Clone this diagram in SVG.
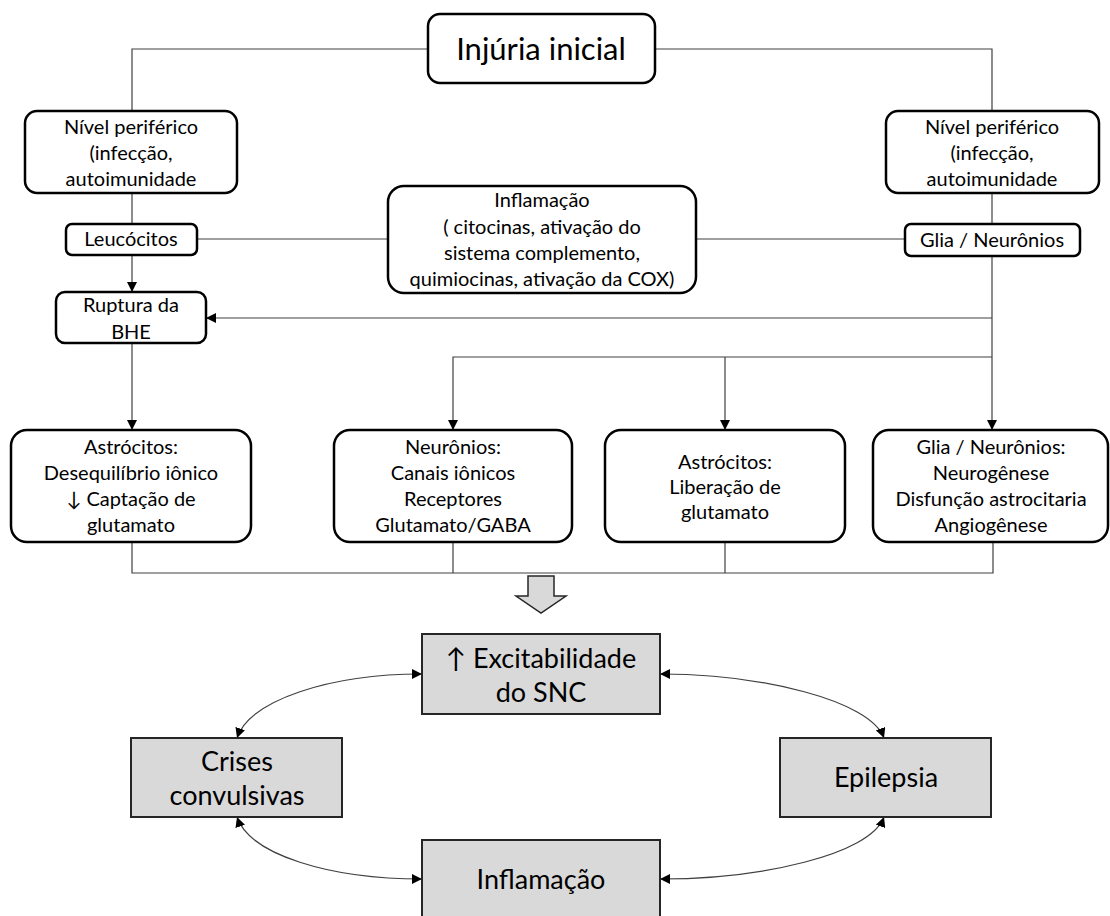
<svg xmlns="http://www.w3.org/2000/svg" width="1110" height="916" viewBox="0 0 1110 916">
<defs>
<style>
.box{fill:#fff;stroke:#000;stroke-width:2.5}
.gbox{fill:#d9d9d9;stroke:#262626;stroke-width:2}
.t{font-family:Lato,"Liberation Sans",sans-serif;font-size:20px;fill:#000;text-anchor:middle}
.tb{font-family:Lato,"Liberation Sans",sans-serif;font-size:27px;fill:#000;text-anchor:middle}
.ln{fill:none;stroke:#404040;stroke-width:1.2}
.cv{fill:none;stroke:#404040;stroke-width:1.2}
</style>
<marker id="ah" viewBox="0 0 10 10" refX="10" refY="5" markerWidth="10" markerHeight="10" markerUnits="userSpaceOnUse" orient="auto-start-reverse">
<path d="M0,0 L10,5 L0,10 z" fill="#000"/>
</marker>
</defs>
<rect width="1110" height="916" fill="#fff"/>

<g id="connectors">
<path class="ln" d="M427,49 H132 V111"/>
<path class="ln" d="M655,49 H992 V111"/>
<path class="ln" d="M132,193 V224"/>
<path class="ln" d="M132,255 V292" marker-end="url(#ah)"/>
<path class="ln" d="M197,239 H388"/>
<path class="ln" d="M696,239 H905"/>
<path class="ln" d="M992,193 V224"/>
<path class="ln" d="M992,256 V430" marker-end="url(#ah)"/>
<path class="ln" d="M992,318 H206" marker-end="url(#ah)"/>
<path class="ln" d="M992,357 H453 V430" marker-end="url(#ah)"/>
<path class="ln" d="M725,357 V430" marker-end="url(#ah)"/>
<path class="ln" d="M132,343 V430" marker-end="url(#ah)"/>
<path class="ln" d="M132,542 V573 H993 V542"/>
<path class="ln" d="M453,542 V573"/>
<path class="ln" d="M725,542 V573"/>
<polygon points="528,576 554,576 554,596 566,596 541,613 516,596 528,596" fill="#d9d9d9" stroke="#262626" stroke-width="1.5"/>
<path class="cv" d="M237,738 C250,700 330,674 422,674" marker-start="url(#ah)" marker-end="url(#ah)"/>
<path class="cv" d="M237,817 C250,855 330,879 422,879" marker-start="url(#ah)" marker-end="url(#ah)"/>
<path class="cv" d="M660,674 C760,674 870,700 884,738" marker-start="url(#ah)" marker-end="url(#ah)"/>
<path class="cv" d="M660,879 C760,879 870,855 884,817" marker-start="url(#ah)" marker-end="url(#ah)"/>
</g>

<g id="injuria">
<rect class="box" x="428" y="14" width="227" height="69" rx="12"/>
<text class="t" x="541" y="60" style="font-size:31px">Injúria inicial</text>
</g>

<g id="nivel-esq">
<rect class="box" x="25" y="111" width="212" height="82" rx="12"/>
<text class="t" x="131" y="134">Nível periférico</text>
<text class="t" x="131" y="160">(infecção,</text>
<text class="t" x="131" y="186">autoimunidade</text>
</g>

<g id="nivel-dir">
<rect class="box" x="886" y="111" width="213" height="82" rx="12"/>
<text class="t" x="992" y="134">Nível periférico</text>
<text class="t" x="992" y="160">(infecção,</text>
<text class="t" x="992" y="186">autoimunidade</text>
</g>

<g id="leucocitos">
<rect class="box" x="66" y="224" width="131" height="31" rx="6"/>
<text class="t" x="131" y="246">Leucócitos</text>
</g>

<g id="glia-neuronios">
<rect class="box" x="905" y="224" width="175" height="32" rx="6"/>
<text class="t" x="992" y="247">Glia / Neurônios</text>
</g>

<g id="inflamacao-top">
<rect class="box" x="388" y="186" width="308" height="107" rx="16"/>
<text class="t" x="542" y="207">Inflamação</text>
<text class="t" x="542" y="234">( citocinas, ativação do</text>
<text class="t" x="542" y="260">sistema complemento,</text>
<text class="t" x="542" y="286">quimiocinas, ativação da COX)</text>
</g>

<g id="ruptura">
<rect class="box" x="56" y="292" width="150" height="51" rx="9"/>
<text class="t" x="131" y="312">Ruptura da</text>
<text class="t" x="131" y="339">BHE</text>
</g>

<g id="astrocitos-1">
<rect class="box" x="11" y="430" width="240" height="112" rx="16"/>
<text class="t" x="131" y="454">Astrócitos:</text>
<text class="t" x="131" y="480">Desequilíbrio iônico</text>
<text class="t" x="131" y="506">↓ Captação de</text>
<text class="t" x="131" y="532">glutamato</text>
</g>

<g id="neuronios">
<rect class="box" x="334" y="430" width="238" height="112" rx="16"/>
<text class="t" x="453" y="454">Neurônios:</text>
<text class="t" x="453" y="480">Canais iônicos</text>
<text class="t" x="453" y="506">Receptores</text>
<text class="t" x="453" y="532">Glutamato/GABA</text>
</g>

<g id="astrocitos-2">
<rect class="box" x="605" y="430" width="240" height="112" rx="16"/>
<text class="t" x="725" y="469">Astrócitos:</text>
<text class="t" x="725" y="494">Liberação de</text>
<text class="t" x="725" y="519">glutamato</text>
</g>

<g id="glia-neuronios-2">
<rect class="box" x="873" y="430" width="235" height="112" rx="16"/>
<text class="t" x="991" y="454">Glia / Neurônios:</text>
<text class="t" x="991" y="480">Neurogênese</text>
<text class="t" x="991" y="506">Disfunção astrocitaria</text>
<text class="t" x="991" y="532">Angiogênese</text>
</g>

<g id="excitabilidade">
<rect class="gbox" x="422" y="634" width="238" height="80"/>
<text class="tb" x="541" y="668">↑ Excitabilidade</text>
<text class="tb" x="541" y="702">do SNC</text>
</g>

<g id="crises">
<rect class="gbox" x="131" y="738" width="211" height="79"/>
<text class="tb" x="237" y="771">Crises</text>
<text class="tb" x="237" y="805">convulsivas</text>
</g>

<g id="epilepsia">
<rect class="gbox" x="780" y="738" width="211" height="79"/>
<text class="tb" x="886" y="787">Epilepsia</text>
</g>

<g id="inflamacao-bottom">
<rect class="gbox" x="422" y="840" width="238" height="90"/>
<text class="tb" x="541" y="889">Inflamação</text>
</g>
</svg>
